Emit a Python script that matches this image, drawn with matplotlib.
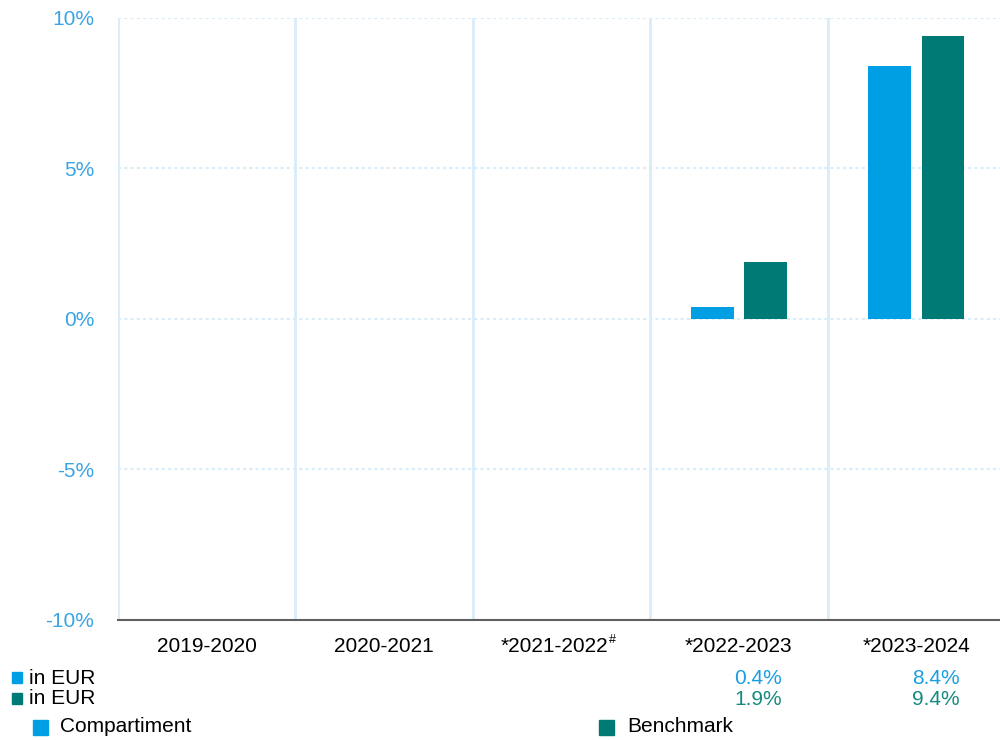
import numpy as np
import matplotlib
matplotlib.use('Agg')
import matplotlib.pyplot as plt
from matplotlib.patches import Rectangle
from matplotlib.transforms import offset_copy, Bbox

plt.rcParams['font.family'] = ['Liberation Sans', 'DejaVu Sans']

# Datos
periodos = ['2019-2020', '2020-2021', '*2021-2022', '*2022-2023', '*2023-2024']
compartiment = [np.nan, np.nan, np.nan, 0.4, 8.4]
benchmark = [np.nan, np.nan, np.nan, 1.9, 9.4]
etiquetas_comp = ['', '', '', '0.4%', '8.4%']
etiquetas_bench = ['', '', '', '1.9%', '9.4%']
yticks = [-10, -5, 0, 5, 10]

azul = '#009FE3'
verde = '#007A74'
grid_col = '#d8ecf9'

fig = plt.figure(figsize=(10, 7.4), dpi=100)
ax = fig.add_axes([0.118, 0.1622, 0.887, 0.8135])

x = np.arange(len(periodos))
ancho = 0.24
ax.bar(x - 0.15, compartiment, ancho, color=azul, zorder=3)
ax.bar(x + 0.15, benchmark, ancho, color=verde, zorder=3)

ax.set_xlim(-0.5, len(periodos) - 0.5)
ax.set_ylim(-10, 10)
ax.set_yticks(yticks)
ax.set_yticklabels([f'{v}%' for v in yticks], color='#3aa4e2', fontsize=15)
ax.set_xticks(x)
# la etiqueta con "#" se dibuja aparte
ax.set_xticklabels([p if i != 2 else '' for i, p in enumerate(periodos)], fontsize=15)
ax.tick_params(axis='both', length=0)
ax.tick_params(axis='x', pad=12)
ax.tick_params(axis='y', pad=17)

# Rejilla
for v in yticks[1:]:
    ax.axhline(v, color=grid_col, lw=1.5, ls=(0, (1.5, 1.5)), zorder=1)
for b in np.arange(-0.5, len(periodos) - 0.5, 1.0):
    ax.axvline(b, color=grid_col, lw=2, zorder=1)

for s in ['top', 'right', 'left']:
    ax.spines[s].set_visible(False)
ax.spines['bottom'].set_color('#606060')
ax.spines['bottom'].set_linewidth(1.5)
ax.spines['bottom'].set_zorder(4)

trans = ax.get_xaxis_transform()
lbl = ax.text(2, 0, periodos[2], fontsize=15, ha='center', va='top', clip_on=False,
              transform=offset_copy(trans, fig=fig, x=-5, y=-12, units='points'))

# -10% cortado por abajo como en el original
fig.canvas.draw()
clip = Bbox([[0, 740 - 627], [1000, 740]])
for t in ax.get_yticklabels():
    t.set_clip_on(True)
    t.set_clip_box(clip)

bb = lbl.get_window_extent()
fig.text(bb.x1 / 1000 + 0.0005, bb.y1 / 740 + 0.004, '#', fontsize=9, va='top', ha='left')

# Tabla de valores
y1 = -0.097
y2 = -0.132
for i in range(len(periodos)):
    ax.text(i + 0.11, y1, etiquetas_comp[i], transform=trans, ha='center', va='center',
            fontsize=15, color='#1a9fe0', clip_on=False)
    ax.text(i + 0.11, y2, etiquetas_bench[i], transform=trans, ha='center', va='center',
            fontsize=15, color='#178a80', clip_on=False)

fig.patches.append(Rectangle((12 / 1000, 1 - 683 / 740), 10 / 1000, 11 / 740,
                             transform=fig.transFigure, color=azul))
fig.patches.append(Rectangle((12 / 1000, 1 - 704 / 740), 10 / 1000, 11 / 740,
                             transform=fig.transFigure, color=verde))
fig.text(29 / 1000, 1 - 678 / 740, 'in EUR', fontsize=15, va='center')
fig.text(29 / 1000, 1 - 699 / 740, 'in EUR', fontsize=15, va='center')

# Leyenda
fig.patches.append(Rectangle((33 / 1000, 1 - 735 / 740), 15 / 1000, 15 / 740,
                             transform=fig.transFigure, color=azul))
fig.patches.append(Rectangle((599 / 1000, 1 - 735 / 740), 15 / 1000, 15 / 740,
                             transform=fig.transFigure, color=verde))
fig.text(60 / 1000, 1 - 727 / 740, 'Compartiment', fontsize=15, va='center')
fig.text(627 / 1000, 1 - 727 / 740, 'Benchmark', fontsize=15, va='center')

fig.savefig('out.png', dpi=100)
